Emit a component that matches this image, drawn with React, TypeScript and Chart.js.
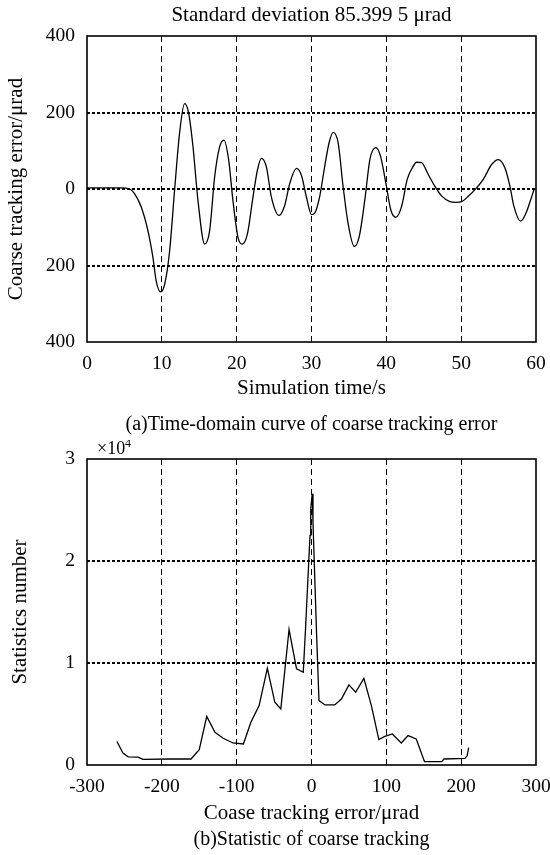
import React, { useEffect, useRef } from 'react';
import { Chart, registerables } from 'chart.js';

Chart.register(...registerables);

// ---------- Data: (a) time-domain coarse tracking error ----------
const timeS = [
  0, 4.5, 5.7, 6.35, 7.25, 8.14, 8.81, 9.25, 9.83, 10.37,
  11.04, 11.7, 12.37, 13.04, 13.58, 14.16, 14.83, 15.72, 16.39, 17.06,
  17.73, 18.3, 18.93, 19.5, 20.18, 20.76, 21.43, 22.18, 22.77, 23.3,
  23.97, 24.64, 25.66, 26.42, 27.09, 27.98, 28.65, 29.32, 30.0, 30.43,
  31.1, 31.77, 32.35, 32.89, 33.56, 34.22, 34.89, 35.7, 36.37, 37.13,
  37.8, 38.6, 39.22, 39.93, 40.6, 41.27, 42.03, 42.79, 43.46, 44.04,
  44.7, 45.6, 46.49, 47.38, 48.5, 49.3, 50.06, 50.95, 52.06, 52.95,
  54.07, 54.96, 55.85, 56.52, 57.06, 57.95, 58.66, 59.29, 59.73,
];
const errorUrad = [
  3, 3, 0, -12, -47, -109, -179, -241, -269, -250,
  -162, -4, 146, 223, 199, 111, -30, -144, -109, 32,
  111, 128, 76, -30, -127, -144, -118, -21, 49, 80,
  58, -21, -69, -43, 14, 54, 36, -21, -67, -63,
  -19, 60, 121, 148, 121, 7, -90, -150, -125, -28,
  77, 108, 86, 16, -55, -74, -46, 25, 55, 70,
  69, 38, 7, -18, -33, -35, -33, -19, 3, 25,
  64, 77, 55, 7, -46, -84, -63, -28, -2,
];
const topYTickLabels = ['400', '200', '0', '200', '400'];

// ---------- Data: (b) statistic of coarse tracking ----------
const errorBins = [
  -260, -252, -245, -232, -225, -190, -161, -150, -140, -129,
  -118, -105, -91, -81, -70, -59, -49, -41, -35, -30,
  -20, -11, -8, -5, -2, -1, 1, 2, 4, 7,
  10, 18, 31, 40, 50, 59, 70, 80, 90, 98,
  108, 120, 129, 140, 151, 174, 177, 205, 208, 210,
];
const statCounts = [
  2300, 1180, 800, 780, 560, 590, 590, 1500, 4770, 3200,
  2620, 2160, 2060, 4190, 5820, 9480, 6150, 5490, 9740, 13280,
  9420, 9090, 13340, 17920, 22500, 25100, 26600, 23800, 19200, 12400,
  6310, 5890, 5890, 6470, 7850, 7130, 8500, 5820, 2490, 2810,
  3040, 2160, 2880, 2550, 330, 330, 590, 650, 900, 1700,
];
const bottomYTickLabels = ['0', '1', '2', '3'];

const FONT = '"Liberation Serif", "Times New Roman", serif';

const figTextPlugin = {
  id: 'figText',
  afterDraw(chart: any, _args: any, opts: any) {
    const { ctx, chartArea: a } = chart;
    ctx.save();
    ctx.setLineDash([]);
    ctx.strokeStyle = '#000';
    ctx.lineWidth = 1.6;
    ctx.strokeRect(a.left, a.top, a.right - a.left, a.bottom - a.top);
    ctx.fillStyle = '#000';
    for (const t of opts.texts || []) {
      ctx.font = `${t.size}px ${FONT}`;
      ctx.textAlign = t.align || 'center';
      ctx.textBaseline = 'alphabetic';
      ctx.fillText(t.text, t.x, t.y);
    }
    ctx.restore();
  },
};

const hideEnds = (n: number, color: string) => (c: any) =>
  c.index === 0 || c.index === n - 1 ? 'rgba(0,0,0,0)' : color;

const fixX = (h: number) => (s: any) => {
  s.height = h;
  s.paddingLeft = 0;
  s.paddingRight = 0;
};
const fixY = (w: number) => (s: any) => {
  s.width = w;
  s.paddingTop = 0;
  s.paddingBottom = 0;
};

export default function App() {
  const topRef = useRef<HTMLCanvasElement>(null);
  const botRef = useRef<HTMLCanvasElement>(null);

  useEffect(() => {
    const tickFont = { family: FONT, size: 19.5 };
    const titleFont = { family: FONT, size: 21 };

    const top = new Chart(topRef.current as HTMLCanvasElement, {
      type: 'line',
      data: {
        datasets: [
          {
            data: timeS.map((t, i) => ({ x: t, y: errorUrad[i] })),
            borderColor: '#000',
            borderWidth: 1.3,
            pointRadius: 0,
            cubicInterpolationMode: 'monotone',
            fill: false,
          },
        ],
      },
      options: {
        animation: false,
        responsive: false,
        maintainAspectRatio: false,
        layout: { padding: { left: 0, right: 14, top: 36, bottom: 39 } },
        plugins: {
          legend: { display: false },
          tooltip: { enabled: false },
          figText: {
            texts: [
              { text: 'Standard deviation 85.399 5 μrad', x: 311.5, y: 21, size: 21 },
              { text: '(a)Time-domain curve of coarse tracking error', x: 311.5, y: 430, size: 20 },
            ],
          },
        } as any,
        scales: {
          x: {
            type: 'linear',
            min: 0,
            max: 60,
            ticks: { stepSize: 10, padding: 10, color: '#000', font: tickFont, maxRotation: 0, autoSkip: false },
            grid: { color: hideEnds(7, '#000'), lineWidth: 1, drawTicks: false },
            border: { display: false, dash: [6, 4] },
            title: { display: true, text: 'Simulation time/s', color: '#000', font: titleFont, padding: { top: 0, bottom: 0 } },
            afterFit: fixX(59),
          },
          y: {
            type: 'linear',
            min: -400,
            max: 400,
            ticks: {
              stepSize: 200,
              padding: 12,
              color: '#000',
              font: tickFont,
              callback: (_v: any, i: number) => topYTickLabels[i],
            },
            grid: { color: hideEnds(5, '#000'), lineWidth: 2, drawTicks: false },
            border: { display: false, dash: [3, 2] },
            title: { display: true, text: 'Coarse tracking error/μrad', color: '#000', font: titleFont, padding: { top: 4, bottom: 0 } },
            afterFit: fixY(87),
          },
        },
      } as any,
      plugins: [figTextPlugin],
    });

    const bot = new Chart(botRef.current as HTMLCanvasElement, {
      type: 'line',
      data: {
        datasets: [
          {
            data: errorBins.map((e, i) => ({ x: e, y: statCounts[i] })),
            borderColor: '#000',
            borderWidth: 1.3,
            pointRadius: 0,
            tension: 0,
            fill: false,
          },
        ],
      },
      options: {
        animation: false,
        responsive: false,
        maintainAspectRatio: false,
        layout: { padding: { left: 0, right: 14, top: 19, bottom: 29 } },
        plugins: {
          legend: { display: false },
          tooltip: { enabled: false },
          figText: {
            texts: [
              { text: '×10', x: 97, y: 14, size: 18, align: 'left' },
              { text: '4', x: 125, y: 7, size: 12, align: 'left' },
              { text: '(b)Statistic of coarse tracking', x: 311.5, y: 405, size: 20 },
            ],
          },
        } as any,
        scales: {
          x: {
            type: 'linear',
            min: -300,
            max: 300,
            ticks: {
              stepSize: 100,
              padding: 10,
              color: '#000',
              font: tickFont,
              maxRotation: 0,
              autoSkip: false,
              callback: (v: any) => String(v),
            },
            grid: { color: hideEnds(7, '#000'), lineWidth: 1, drawTicks: false },
            border: { display: false, dash: [6, 4] },
            title: { display: true, text: 'Coase tracking error/μrad', color: '#000', font: titleFont, padding: { top: 0, bottom: 0 } },
            afterFit: fixX(61),
          },
          y: {
            type: 'linear',
            min: 0,
            max: 30000,
            ticks: {
              stepSize: 10000,
              padding: 12,
              color: '#000',
              font: tickFont,
              callback: (_v: any, i: number) => bottomYTickLabels[i],
            },
            grid: { color: hideEnds(4, '#000'), lineWidth: 2, drawTicks: false },
            border: { display: false, dash: [3, 2] },
            title: { display: true, text: 'Statistics number', color: '#000', font: titleFont, padding: { top: 8, bottom: 0 } },
            afterFit: fixY(87),
          },
        },
      } as any,
      plugins: [figTextPlugin],
    });

    return () => {
      top.destroy();
      bot.destroy();
    };
  }, []);

  return (
    <div style={{ position: 'absolute', left: 0, top: 0, width: 550, height: 855, background: '#fff' }}>
      <canvas ref={topRef} width={550} height={440} style={{ position: 'absolute', left: 0, top: 0, width: 550, height: 440 }} />
      <canvas ref={botRef} width={550} height={415} style={{ position: 'absolute', left: 0, top: 440, width: 550, height: 415 }} />
    </div>
  );
}
